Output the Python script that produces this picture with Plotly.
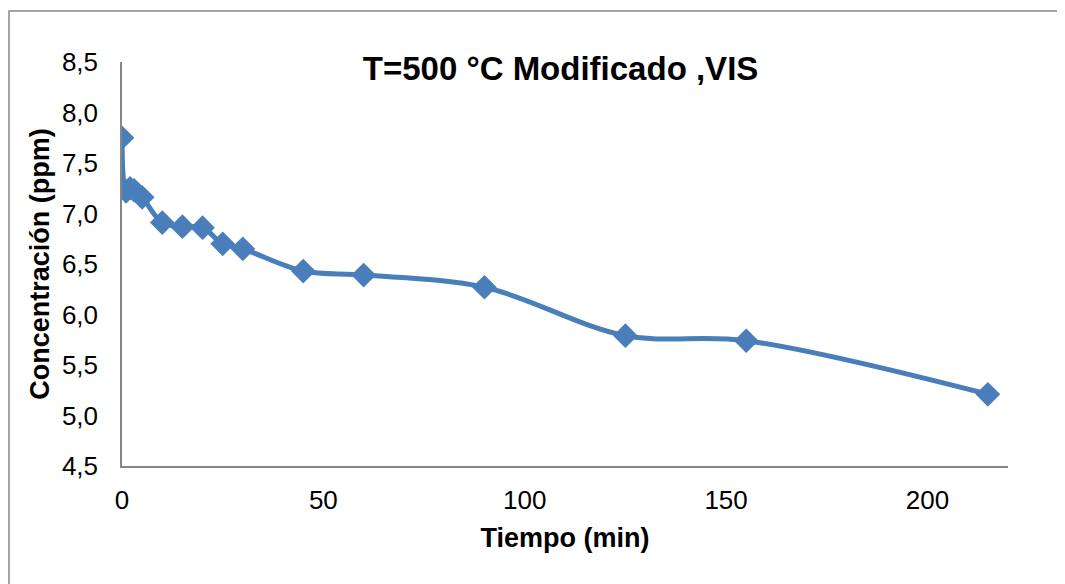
"""
Concentration vs time, T=500 °C Modificado, VIS
"""

import plotly.graph_objects as go

# Data
tiempo_min = [0, 1, 2, 3, 5, 10, 15, 20, 25, 30, 45, 60, 90, 125, 155, 215]
concentracion_ppm = [7.75, 7.22, 7.25, 7.23, 7.16, 6.91, 6.87, 6.86, 6.70, 6.65,
                     6.43, 6.39, 6.27, 5.79, 5.74, 5.21]

line_color = "#4a7ebb"
axis_color = "#868686"

fig = go.Figure()

fig.add_trace(go.Scatter(
    x=tiempo_min,
    y=concentracion_ppm,
    mode="lines+markers",
    line=dict(color=line_color, width=5, shape="spline", smoothing=1),
    marker=dict(symbol="diamond", size=19, color=line_color),
    showlegend=False
))

# page body adds ~8px offset, so the figure is a bit smaller than the window
fig.update_layout(
    width=1057,
    height=577,
    paper_bgcolor="white",
    plot_bgcolor="white",
    separators=",.",
    font=dict(family="Liberation Sans, Arial", color="black", size=26),
    margin=dict(l=114, r=57, t=54, b=119),
    title=dict(
        text="<b>T=500 °C Modificado ,VIS</b>",
        x=0.495, xref="paper", xanchor="center",
        y=1 - 60 / 577, yref="container", yanchor="middle",
        font=dict(size=33)
    ),
    xaxis=dict(
        range=[0, 220],
        tickvals=[0, 50, 100, 150, 200],
        showgrid=False,
        zeroline=False,
        showline=True,
        linecolor=axis_color,
        linewidth=1.5,
        ticks="",
        ticklabelstandoff=10,
        title=dict(text="<b>Tiempo (min)</b>", font=dict(size=27), standoff=14)
    ),
    yaxis=dict(
        range=[4.5, 8.5],
        dtick=0.5,
        tickformat=".1f",
        showgrid=False,
        zeroline=False,
        showline=True,
        linecolor=axis_color,
        linewidth=1.5,
        ticks="",
        ticklabelstandoff=17,
        title=dict(text="<b>Concentración (ppm)</b>", font=dict(size=27), standoff=4)
    ),
    shapes=[dict(
        type="rect", xref="paper", yref="paper",
        x0=(1 - 114) / 886, x1=1.2,
        y0=-0.5, y1=1 + (54 - 3) / 404,
        line=dict(color=axis_color, width=1.5),
        layer="below"
    )]
)

fig.write_html("out.html")
